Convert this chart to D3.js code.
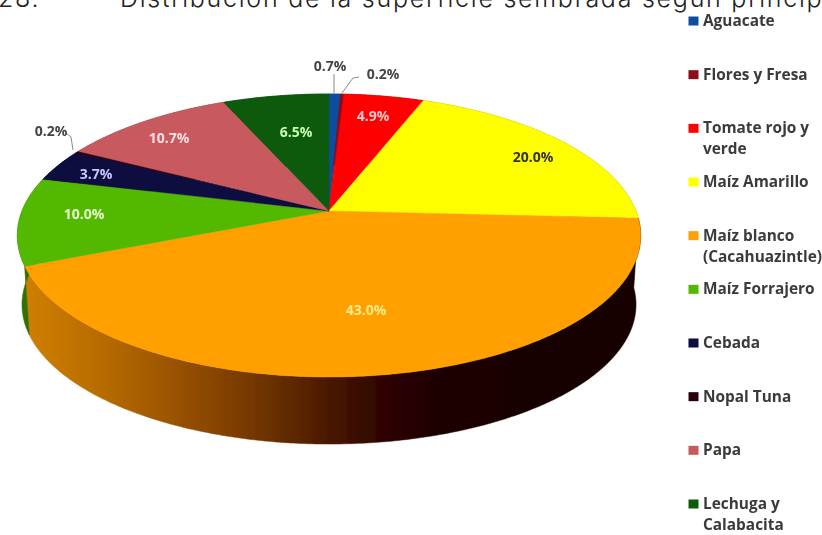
<!DOCTYPE html>
<html lang="es"><head><meta charset="utf-8">
<script src="https://cdn.jsdelivr.net/npm/d3@7"></script>
<style>
html,body{margin:0;padding:0;background:#fff;overflow:hidden}
svg{display:block}
.soft text{font-family:"Open Sans",sans-serif;font-weight:700}
</style></head><body>
<svg id="c" width="822" height="535"></svg>
<script>
// DATA
const categories = ["Aguacate","Flores y Fresa","Tomate rojo y verde","Maíz Amarillo","Maíz blanco (Cacahuazintle)","Maíz Forrajero","Cebada","Nopal Tuna","Papa","Lechuga y Calabacita"];
const values = [0.7,0.2,4.9,20.0,43.0,10.0,3.7,0.2,10.7,6.5];
const valueLabels = ["0.7%","0.2%","4.9%","20.0%","43.0%","10.0%","3.7%","0.2%","10.7%","6.5%"];
const legendLines = [["Aguacate"],["Flores y Fresa"],["Tomate rojo y","verde"],["Maíz Amarillo"],["Maíz blanco","(Cacahuazintle)"],["Maíz Forrajero"],["Cebada"],["Nopal Tuna"],["Papa"],["Lechuga y","Calabacita"]];
const colors = ["#0f4da0","#8b0a1a","#ff0000","#ffff00","#ff9f00","#52b800","#0a0a40","#2a0010","#c85a5f","#0f5a0a"];
const labelColors = ["#444","#444","#ffc8c8","#33332a","#ffee88","#e8ffd0","#c8c8ff","#444","#ffe0e0","#c8ffb0"];
// LAYOUT (label anchor points, leader lines)
const labelAnchors = [[330,65],[383,73],[373,115],[533,156],[366,309],[84,213],[96,173],[51,130],[169,137],[296,131]];
const leaders = [[[334,93],[334,74]],[[342,93],[353,78],[359,77]],[[73,150],[71,137],[66,133]]];
const wallStops = [[0,"#d08000"],[0.13,"#b86c00"],[0.3,"#8c4800"],[0.4,"#6c3200"],[0.5,"#481800"],[0.58,"#300500"],[0.68,"#1c0000"],[1,"#140000"]];
const titleParts = [{t:"28.",x:-2},{t:"Distribución de la superficie sembrada según princip",x:120}];

const svg = d3.select("#c");
const cx = 329, cy = 211, A = 307, B = 137.3, k = 0.173, depth = 69.5;
function project(a, scale, dy){
  const u = Math.sin(a), v = -Math.cos(a), w = 1 - k*v;
  return [cx + scale*A*u/w, cy + dy + scale*B*v/w];
}
const pie = d3.pie().sort(null).value(d=>d).startAngle(0).endAngle(2*Math.PI);
const arcs = pie(values);
const line = d3.line();
const samples = d => {
  const n = Math.max(2, Math.ceil((d.endAngle-d.startAngle)/0.01));
  return d3.range(n+1).map(i => d.startAngle + (d.endAngle-d.startAngle)*i/n);
};

const defs = svg.append("defs");
const grad = defs.append("linearGradient").attr("id","wall").attr("gradientUnits","userSpaceOnUse")
  .attr("x1",20).attr("x2",640).attr("y1",0).attr("y2",0);
wallStops.forEach(s => grad.append("stop").attr("offset",s[0]).attr("stop-color",s[1]));
const blur = defs.append("filter").attr("id","soft").attr("x","-5%").attr("y","-5%").attr("width","110%").attr("height","110%");
blur.append("feGaussianBlur").attr("stdDeviation",0.55);

// Title
svg.append("g").selectAll("text").data(titleParts).join("text")
  .attr("x",d=>d.x).attr("y",7).attr("font-family","Inter, sans-serif").attr("font-weight",300)
  .attr("font-size",25).attr("letter-spacing",1.75).attr("fill","#222").text(d=>d.t);

// Side walls
const wallFill = (d,i) => i===4 ? "url(#wall)" : d3.color(colors[i]).darker(1.4).formatHex();
const pieG = svg.append("g").attr("filter","url(#soft)");
pieG.append("g").selectAll("path").data(arcs).join("path")
  .attr("fill",wallFill).attr("stroke",wallFill).attr("stroke-width",0.5)
  .attr("d",d=>{
    const s = samples(d);
    return line(s.map(a=>project(a,1,0)).concat(s.slice().reverse().map(a=>project(a,0.985,depth))))+"Z";
  });
// Top faces
pieG.append("g").selectAll("path").data(arcs).join("path")
  .attr("fill",(d,i)=>colors[i]).attr("stroke",(d,i)=>colors[i]).attr("stroke-width",0.4)
  .attr("d",d=>line([[cx,cy]].concat(samples(d).map(a=>project(a,1,0))))+"Z");

const soft = svg.append("g").attr("class","soft").attr("filter","url(#soft)");
// Leaders
soft.append("g").selectAll("path").data(leaders).join("path")
  .attr("d",d=>line(d)).attr("fill","none").attr("stroke","#888").attr("stroke-width",1);
// Value labels
soft.append("g").selectAll("text").data(valueLabels).join("text")
  .attr("x",(d,i)=>labelAnchors[i][0]).attr("y",(d,i)=>labelAnchors[i][1])
  .attr("text-anchor","middle").attr("dominant-baseline","central")
  .attr("font-size",14).attr("fill",(d,i)=>labelColors[i]).text(d=>d);

// Legend
const ly = d3.scalePoint().domain(categories).range([21,504]);
const leg = soft.append("g").selectAll("g").data(categories).join("g")
  .attr("transform",d=>`translate(0,${ly(d)})`);
leg.append("rect").attr("x",688.5).attr("y",-4.5).attr("width",10).attr("height",9).attr("fill",(d,i)=>colors[i]);
leg.append("text").attr("fill","#3a3a3a").attr("font-size",15.4)
  .selectAll("tspan").data((d,i)=>legendLines[i]).join("tspan")
  .attr("x",703).attr("y",(d,j)=>j*21+5).text(d=>d);
</script>
</body></html>
